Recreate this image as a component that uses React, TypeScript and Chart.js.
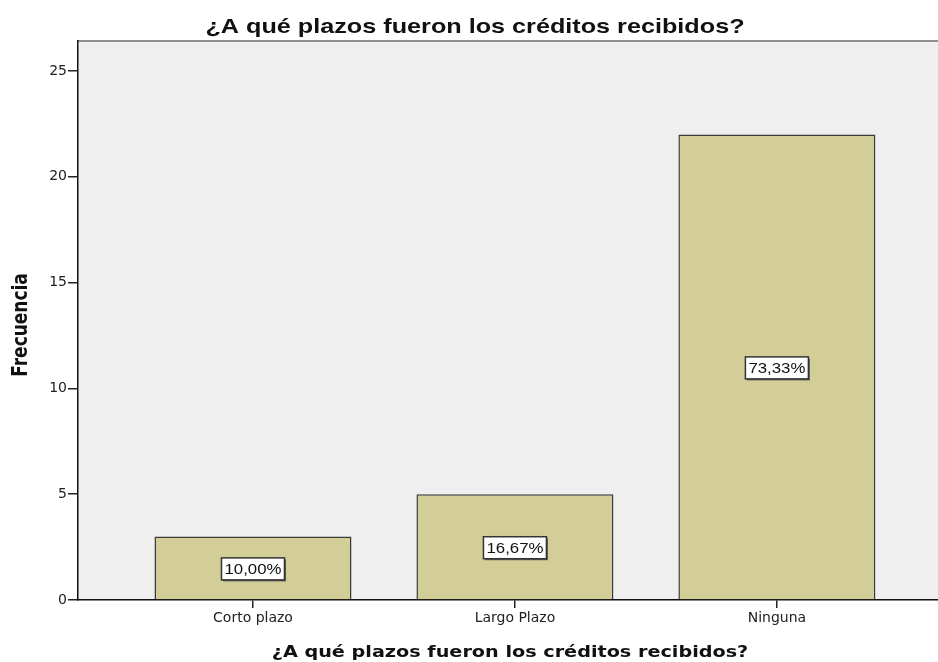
import React, { useEffect, useRef } from 'react';
import { Chart, registerables } from 'chart.js';

Chart.register(...registerables);

const categories = ['Corto plazo', 'Largo Plazo', 'Ninguna'];
const frequencies = [3, 5, 22];
const percentLabels = ['10,00%', '16,67%', '73,33%'];
const yTickValues = [0, 5, 10, 15, 20, 25];
const chartTitle = '¿A qué plazos fueron los créditos recibidos?';
const xAxisTitle = '¿A qué plazos fueron los créditos recibidos?';
const yAxisTitle = 'Frecuencia';

const STRETCH = 1.2;

function drawStretched(ctx: any, text: string, x: number, y: number) {
  ctx.save();
  ctx.translate(x, y);
  ctx.scale(STRETCH, 1);
  ctx.fillText(text, 0, 0);
  ctx.restore();
}

const decorPlugin = {
  id: 'decor',
  beforeDraw(chart: any) {
    const { ctx, chartArea: a } = chart;
    ctx.save();
    ctx.fillStyle = '#FFFFFF';
    ctx.fillRect(0, 0, chart.width, chart.height);
    ctx.fillStyle = '#EFEFEF';
    ctx.fillRect(a.left, a.top, a.right - a.left, a.bottom - a.top);
    ctx.strokeStyle = '#8f8f8f';
    ctx.lineWidth = 2;
    ctx.beginPath();
    ctx.moveTo(a.left, a.top);
    ctx.lineTo(a.right, a.top);
    ctx.stroke();
    ctx.restore();
  },
  afterDatasetsDraw(chart: any) {
    const { ctx } = chart;
    const meta = chart.getDatasetMeta(0);
    ctx.save();
    ctx.font = '14px "Liberation Sans", Arial, sans-serif';
    ctx.textAlign = 'center';
    ctx.textBaseline = 'middle';
    meta.data.forEach((bar: any, i: number) => {
      const cx = bar.x;
      const cy = (bar.y + bar.base) / 2 + 1;
      const text = percentLabels[i];
      const w = ctx.measureText(text).width * STRETCH + 6;
      const h = 22;
      ctx.fillStyle = '#5a5a5a';
      ctx.fillRect(cx - w / 2 + 1.5, cy - h / 2 + 1.5, w, h);
      ctx.fillStyle = '#FFFFFF';
      ctx.fillRect(cx - w / 2, cy - h / 2, w, h);
      ctx.strokeStyle = '#333333';
      ctx.lineWidth = 1.5;
      ctx.strokeRect(cx - w / 2, cy - h / 2, w, h);
      ctx.fillStyle = '#111111';
      drawStretched(ctx, text, cx, cy + 1);
    });
    ctx.restore();
  },
  afterDraw(chart: any) {
    const { ctx } = chart;
    ctx.save();
    ctx.fillStyle = '#111111';
    ctx.textAlign = 'center';
    ctx.textBaseline = 'alphabetic';
    ctx.font = 'bold 21px "Liberation Sans", Arial, sans-serif';
    drawStretched(ctx, chartTitle, 475, 33);
    ctx.font = 'bold 16px "DejaVu Sans", sans-serif';
    drawStretched(ctx, xAxisTitle, 510, 657);
    ctx.textBaseline = 'middle';
    ctx.translate(22, 325);
    ctx.scale(STRETCH, 1);
    ctx.rotate(-Math.PI / 2);
    ctx.font = 'bold 17px "DejaVu Sans", sans-serif';
    ctx.fillText(yAxisTitle, 0, 0);
    ctx.restore();
  },
};

export default function App() {
  const canvasRef = useRef<HTMLCanvasElement | null>(null);

  useEffect(() => {
    document.body.style.margin = '0';
    const canvas = canvasRef.current;
    if (!canvas) return;
    const chart = new Chart(canvas, {
      type: 'bar',
      data: {
        datasets: [
          {
            label: 'Frecuencia',
            data: frequencies.map((v, i) => ({ x: i, y: v })),
            backgroundColor: '#D3CE97',
            borderColor: '#3a3a3a',
            borderWidth: 1.5,
            barPercentage: 0.752,
            categoryPercentage: 1,
          },
        ],
      },
      options: {
        animation: false,
        responsive: false,
        maintainAspectRatio: false,
        layout: { padding: { top: 41, left: 0, right: 0, bottom: 0 } },
        plugins: {
          legend: { display: false },
          title: { display: false },
          tooltip: { enabled: false },
        },
        scales: {
          x: {
            type: 'linear',
            offset: false,
            min: -0.668,
            max: 2.615,
            afterBuildTicks: (scale: any) => {
              scale.ticks = categories.map((_, i) => ({ value: i }));
            },
            afterFit: (scale: any) => {
              scale.height = 62;
            },
            ticks: {
              callback: (v: any) => categories[Math.round(Number(v))] ?? '',
              color: '#222222',
              font: { family: '"DejaVu Sans", sans-serif', size: 14 },
              padding: 2,
              maxRotation: 0,
              autoSkip: false,
            },
            grid: {
              display: true,
              offset: false,
              drawOnChartArea: false,
              drawTicks: true,
              tickLength: 8,
              color: '#222222',
              lineWidth: 1.5,
            },
            border: { display: true, color: '#111111', width: 1.5 },
          },
          y: {
            type: 'linear',
            min: 0,
            max: 26.42,
            afterBuildTicks: (scale: any) => {
              scale.ticks = yTickValues.map((v) => ({ value: v }));
            },
            afterFit: (scale: any) => {
              scale.width = 78;
            },
            ticks: {
              color: '#222222',
              font: { family: '"DejaVu Sans", sans-serif', size: 14 },
              padding: 1,
            },
            grid: {
              display: true,
              drawOnChartArea: false,
              drawTicks: true,
              tickLength: 10,
              color: '#222222',
              lineWidth: 1.5,
            },
            border: { display: true, color: '#111111', width: 1.5 },
          },
        },
      },
      plugins: [decorPlugin],
    });
    return () => chart.destroy();
  }, []);

  return (
    <div style={{ width: 938, height: 662, position: 'relative' }}>
      <canvas ref={canvasRef} width={938} height={662} style={{ display: 'block' }} />
    </div>
  );
}
